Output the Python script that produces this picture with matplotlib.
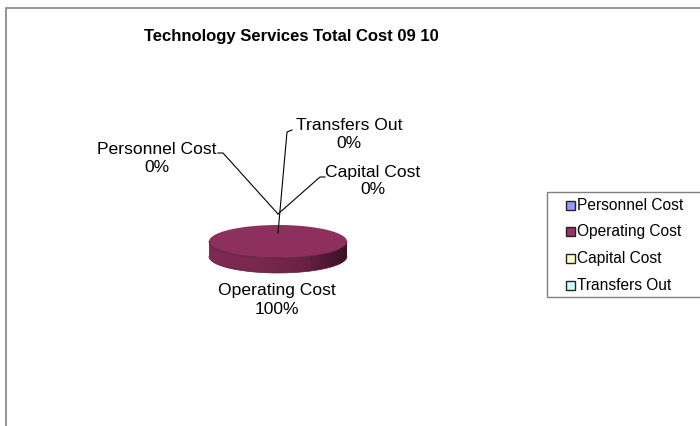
import numpy as np
import matplotlib.pyplot as plt
from matplotlib.patches import Polygon, Rectangle
from matplotlib.colors import LinearSegmentedColormap

plt.rcParams['font.family'] = ['Liberation Sans', 'DejaVu Sans']

title = "Technology Services Total Cost 09 10"
categories = ["Personnel Cost", "Operating Cost", "Capital Cost", "Transfers Out"]
values = [0, 100, 0, 0]
colors = ["#9999ff", "#993366", "#ffffcc", "#ccffff"]

# where the label of each slice sits (pixels) and where its leader line runs
label_pos = {
    "Personnel Cost": (157, 158),
    "Operating Cost": (277, 300),
    "Capital Cost": (373, 181),
    "Transfers Out": (349, 135),
}
leaders = {
    "Personnel Cost": [(278, 214), (223, 153), (218, 153)],
    "Capital Cost": [(278, 214), (320, 177), (325, 177)],
    "Transfers Out": [(278, 233), (287, 132), (292, 130)],
}

W, H = 700, 426
fig = plt.figure(figsize=(W / 100, H / 100), dpi=100)
ax = fig.add_axes([0, 0, 1, 1])
ax.set_xlim(0, W)
ax.set_ylim(H, 0)
ax.axis("off")

# chart area border (only top and left fall inside the image)
ax.plot([5.5, 5.5, W + 2], [H + 2, 7.5, 7.5], color="#8c8c8c", lw=1.3,
        solid_joinstyle="miter")

ax.text(291, 37, title, ha="center", va="center", fontsize=12,
        fontweight="bold")

# 3d pie: ellipse top + shaded front wall
cx, cy, rx, ry, depth = 278, 241.5, 69, 16.5, 15
total = float(sum(values))
start = -90.0  # twelve o'clock, going clockwise
angles = []
for v in values:
    sweep = 360.0 * v / total
    angles.append((start, start + sweep))
    start += sweep

t = np.linspace(0, np.pi, 200)
front_top = np.column_stack([cx - rx * np.cos(t), cy + ry * np.sin(t)])
front_bot = front_top[::-1] + [0, depth]
wall = Polygon(np.vstack([front_top, front_bot]), closed=True,
               facecolor="none", edgecolor="none")
ax.add_patch(wall)
shade = LinearSegmentedColormap.from_list(
    "wall", ["#7e2a52", "#7a2850", "#6c2347", "#3a1124"])
grad = np.linspace(0, 1, 256)[None, :]
img = ax.imshow(grad, cmap=shade, aspect="auto",
                extent=[cx - rx, cx + rx, cy + ry + depth + 1, cy - 1],
                zorder=2)
img.set_clip_path(wall)
ax.plot(front_bot[:, 0], front_bot[:, 1], color="#5a2038", lw=0.5, zorder=3)

for (a0, a1), c in zip(angles, colors):
    if a1 - a0 <= 0:
        continue
    th = np.radians(np.linspace(a0, a1, 300))
    pts = np.column_stack([cx + rx * np.cos(th), cy + ry * np.sin(th)])
    if a1 - a0 < 360:
        pts = np.vstack([[cx, cy], pts])
    top_c = "#8e305e" if c == "#993366" else c
    ax.add_patch(Polygon(pts, closed=True, facecolor=top_c,
                         edgecolor="none", zorder=4))
ax.plot(front_top[:, 0], front_top[:, 1], color="#4a1830", lw=0.5, zorder=5)

# leader lines and labels
for name, pts in leaders.items():
    xs, ys = zip(*pts)
    ax.plot(xs, ys, color="black", lw=0.8, zorder=6)

for name, v in zip(categories, values):
    x, y = label_pos[name]
    ax.text(x, y, f"{name}\n{v / total * 100:.0f}%", ha="center",
            va="center", fontsize=12.6, linespacing=1.25, zorder=7)

# legend
ax.add_patch(Rectangle((547, 192), W - 547 + 5, 105, facecolor="white",
                       edgecolor="#7f7f7f", lw=1.0, zorder=6))
for i, (name, c) in enumerate(zip(categories, colors)):
    y = 205 + i * 26.7
    ax.add_patch(Rectangle((566, y - 4.5), 9, 9, facecolor=c,
                           edgecolor="#222222", lw=1.0, zorder=7))
    ax.text(577, y, name, ha="left", va="center", fontsize=11.2, zorder=7)

fig.savefig("out.png", dpi=100)
